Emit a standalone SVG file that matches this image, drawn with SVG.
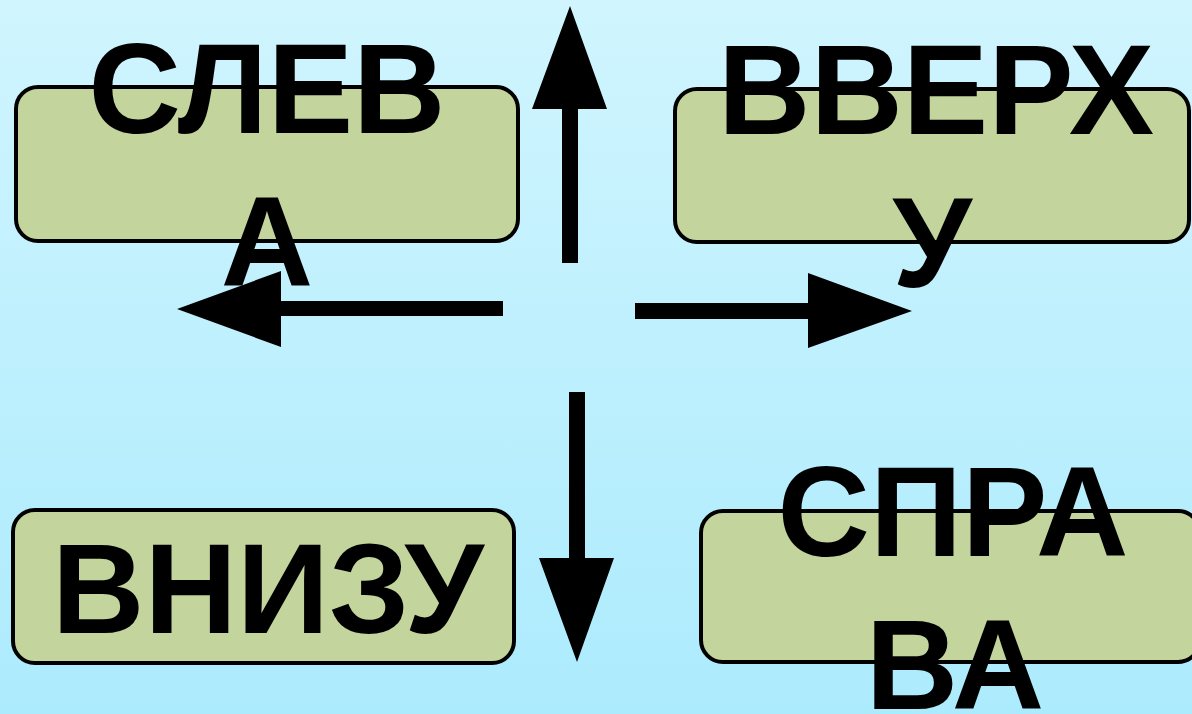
<svg xmlns="http://www.w3.org/2000/svg" width="1192" height="714" viewBox="0 0 1192 714">
<defs>
<linearGradient id="bg" x1="0" y1="0" x2="0" y2="1">
<stop offset="0" stop-color="#d0f5fe"/>
<stop offset="1" stop-color="#acebfd"/>
</linearGradient>
<style>
.box{fill:#c3d59c;stroke:#000;stroke-width:4}
.lbl{font-family:"Liberation Sans",Arial,sans-serif;font-weight:bold;font-size:128px;fill:#000;text-anchor:middle}
.arr{fill:#000}
</style>
</defs>
<rect width="1192" height="714" fill="url(#bg)"/>
<g id="connectors">
<path class="arr" d="M562,263 V109 H532 L570,6 L607,109 H578 V263 Z"/>
<path class="arr" d="M503,301 H281 V271 L177,309 L281,347 V316 H503 Z"/>
<path class="arr" d="M635,303 H808 V273 L912,311 L808,348 V319 H635 Z"/>
<path class="arr" d="M569,392 V558 H539 L577,662 L614,558 H585 V392 Z"/>
</g>
<g id="node-left">
<rect class="box" x="16" y="87" width="502" height="154" rx="22"/>
<text class="lbl" x="267" y="133">СЛЕВ</text>
<text class="lbl" x="267" y="286">А</text>
</g>
<g id="node-up">
<rect class="box" x="675" y="89" width="514" height="153" rx="22"/>
<text class="lbl" x="936" y="134">ВВЕРХ</text>
<text class="lbl" x="932" y="287">У</text>
</g>
<g id="node-down">
<rect class="box" x="13" y="510" width="501" height="153" rx="22"/>
<text class="lbl" x="268" y="633">ВНИЗУ</text>
</g>
<g id="node-right">
<rect class="box" x="701" y="511" width="499" height="151" rx="22"/>
<text class="lbl" x="953" y="556">СПРА</text>
<text class="lbl" x="955" y="709">ВА</text>
</g>
</svg>
